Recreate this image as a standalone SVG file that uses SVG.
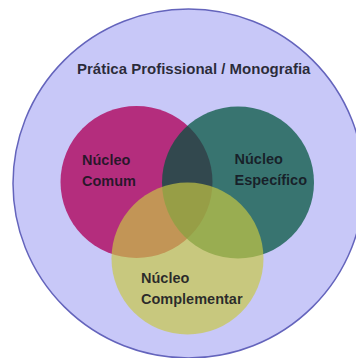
<svg xmlns="http://www.w3.org/2000/svg" width="356" height="358" viewBox="0 0 356 358">
  <style>
    .label { font-family: "Liberation Sans", Arial, sans-serif; font-weight: bold; fill: #141420; fill-opacity: 0.88; }
    .title { font-size: 15px; }
    .core { font-size: 14.5px; }
  </style>
  <rect width="356" height="358" fill="#ffffff"/>

  <!-- outer field -->
  <g id="pratica">
    <ellipse cx="188.5" cy="183.5" rx="175.5" ry="174.5" fill="#c8c8f8" stroke="#6464bc" stroke-width="1.5"/>
    <text class="label title" x="77" y="74">Prática Profissional / Monografia</text>
  </g>

  <!-- overlapping cores, blended by opacity -->
  <g id="nucleo-comum">
    <circle cx="136.5" cy="182" r="76" fill="#b42d7d"/>
  </g>
  <g id="nucleo-especifico">
    <circle cx="238" cy="182.5" r="76" fill="#00533b" fill-opacity="0.72"/>
  </g>
  <g id="nucleo-complementar">
    <circle cx="187.5" cy="258.5" r="76" fill="#c8c842" fill-opacity="0.675"/>
  </g>

  <g id="labels">
    <text class="label core" x="82" y="164.5">Núcleo</text>
    <text class="label core" x="82" y="185.5">Comum</text>
    <text class="label core" x="234.5" y="164">Núcleo</text>
    <text class="label core" x="234.5" y="185">Específico</text>
    <text class="label core" x="141" y="282.5">Núcleo</text>
    <text class="label core" x="141" y="304">Complementar</text>
  </g>
</svg>
